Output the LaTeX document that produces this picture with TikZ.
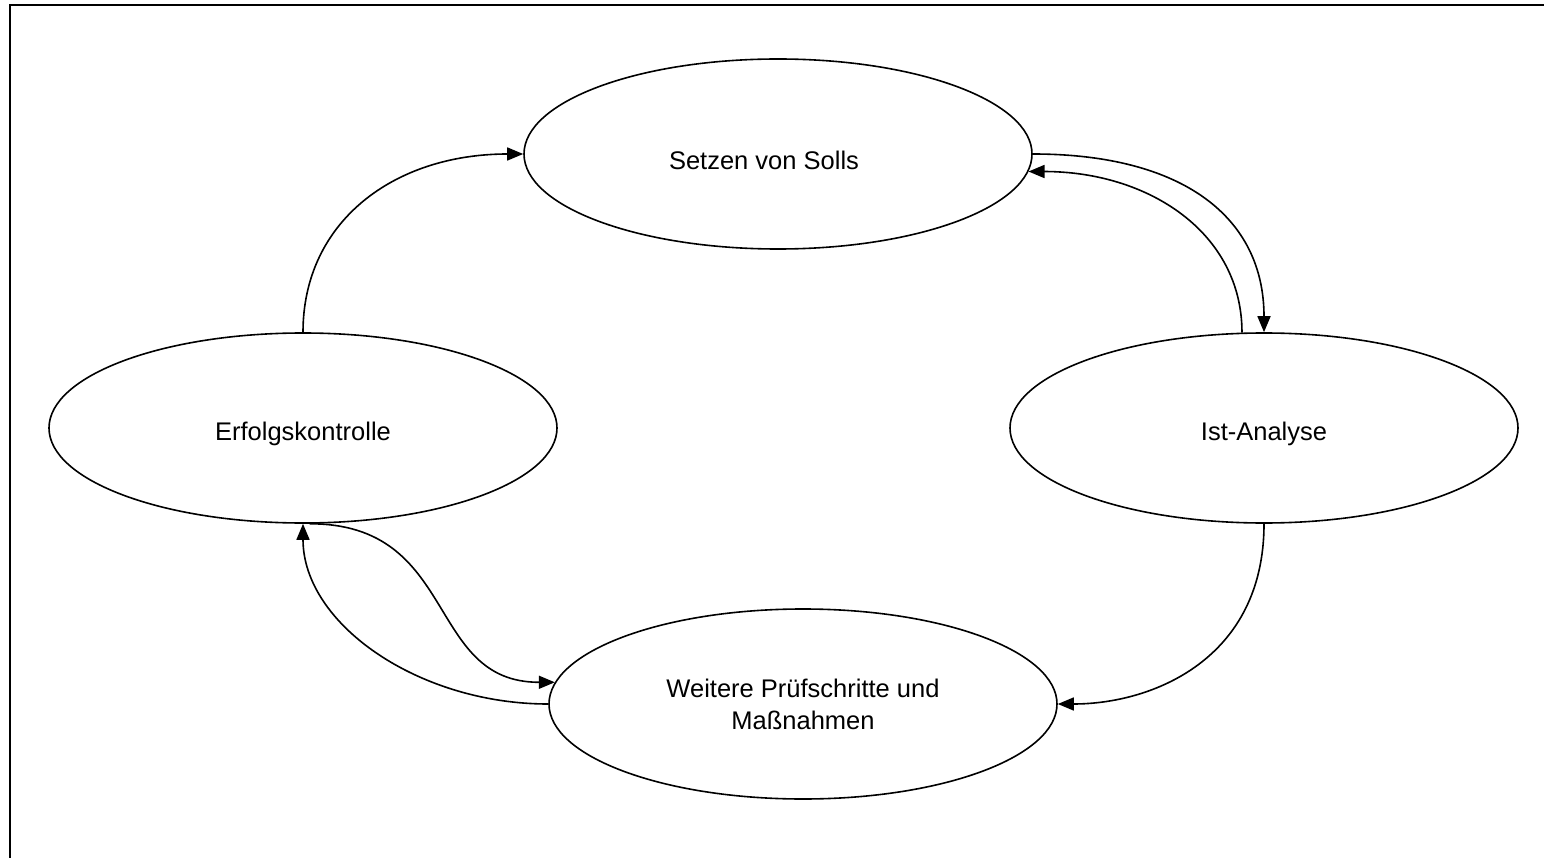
\documentclass[tikz,border=0pt]{standalone}
\usepackage{fontspec}
\setmainfont{Liberation Sans}
\usetikzlibrary{shapes.geometric,arrows.meta}
\newcommand{\lowtext}[1]{\raisebox{-6pt}[\height][\depth]{#1}}
\begin{document}
\begin{tikzpicture}[x=1pt,y=-1pt,
  state/.style={draw,ellipse,line width=1.6pt,minimum width=508pt,minimum height=190pt,inner sep=0pt,
    font=\fontsize{25.5}{32}\selectfont,align=center},
  conn/.style={line width=1.6pt,-{Triangle[length=16pt,width=13pt]}},
  frame/.style={line width=2pt}]
\useasboundingbox (0,0) rectangle (1544,858);
\draw[frame] (10,858) -- (10,5) -- (1544,5);
\node[state] (T) at (778,154) {\lowtext{\hspace*{-28pt}Setzen von Solls}};
\node[state] (L) at (303,428) {\lowtext{Erfolgskontrolle}};
\node[state] (R) at (1264,428) {\lowtext{Ist-Analyse}};
\node[state] (B) at (803,704) {Weitere Prüfschritte und\\Maßnahmen};
% left -> top
\draw[conn] (L.north) .. controls +(0,-110) and +(-130,0) .. (T.west);
% top -> right
\draw[conn] (T.east) .. controls +(150,0) and +(0,-115) .. (R.north);
% right -> top (inner)
\draw[conn] (R.103) .. controls +(0,-100) and +(120,0) .. (T.-4);
% right -> bottom
\draw[conn] (R.south) .. controls +(0,135) and +(95,0) .. (B.east);
% left -> bottom (S-curve)
\draw[conn] (L.-86) .. controls +(150,0) and +(-130,0) .. (B.175);
% bottom -> left
\draw[conn] (B.west) .. controls +(-130,0) and +(0,100) .. (L.south);
\end{tikzpicture}
\end{document}
